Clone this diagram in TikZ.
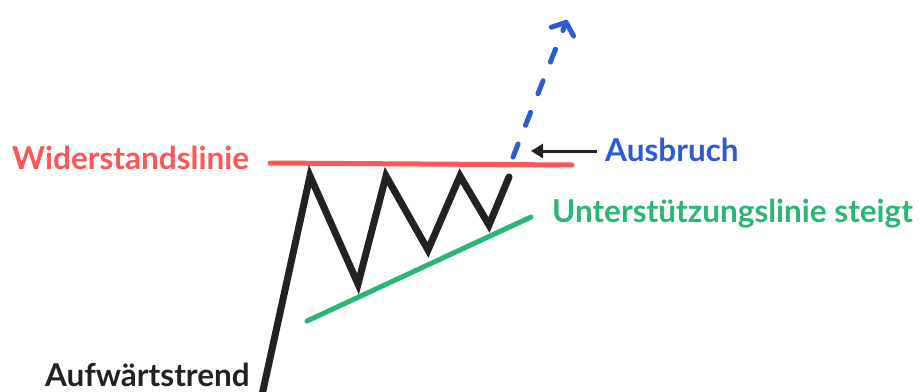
\documentclass[tikz,border=0pt]{standalone}
\usepackage{fontspec}
\setmainfont{Lato}
\usetikzlibrary{arrows.meta}
\definecolor{cred}{HTML}{FF5555}
\definecolor{cblue}{HTML}{2B5BD7}
\definecolor{cgreen}{HTML}{2BB673}
\definecolor{cblack}{HTML}{222222}
\tikzset{
  lbl/.style={anchor=base west, inner sep=0pt, font=\bfseries\fontsize{31.5}{36}\selectfont},
  priceline/.style={cblack, line width=7pt, line join=miter, line cap=butt},
  levelline/.style={line width=5pt, line cap=round},
}
\begin{document}
\begin{tikzpicture}[x=1pt,y=-1pt]
\useasboundingbox (0,0) rectangle (920,391);
% price path
\coordinate (p0) at (262,395);
\coordinate (p1) at (310,176);
\coordinate (p2) at (358,284);
\coordinate (p3) at (386,176);
\coordinate (p4) at (428,250);
\coordinate (p5) at (460,176);
\coordinate (p6) at (489,225);
\coordinate (p7) at (509,177);
% resistance
\coordinate (r0) at (270,163);
\coordinate (r1) at (572,165);
% support
\coordinate (s0) at (307,321);
\coordinate (s1) at (531,217);
% breakout
\coordinate (b0) at (513,157);
\coordinate (b1) at (567,20);
% arrow
\coordinate (a0) at (597,151);
\coordinate (a1) at (531,151);

\draw[levelline, cred] (r0) -- (r1);
\draw[levelline, cgreen] (s0) -- (s1);
\draw[priceline] (p0) -- (p1) -- (p2) -- (p3) -- (p4) -- (p5) -- (p6) -- (p7);
\draw[cblack, line width=7pt, line cap=round] (p7) -- ++(0,0);
\draw[cblue, line width=5pt, line cap=round, dash pattern=on 14pt off 20pt,
      -{Straight Barb[length=10pt, width=24pt, line cap=round, line join=round]}] (b0) -- (b1);
\draw[cblack, line width=3pt, -{Triangle[length=12pt, width=14pt]}] (a0) -- (a1);

\node[lbl, text=cred] (wid) at (12,169) {Widerstandslinie};
\node[lbl, text=cblue] (aus) at (605,161) {Ausbruch};
\node[lbl, text=cgreen] (unt) at (552,222) {Unterstützungslinie steigt};
\node[lbl, text=cblack] (auf) at (45,386) {Aufwärtstrend};
\end{tikzpicture}
\end{document}
